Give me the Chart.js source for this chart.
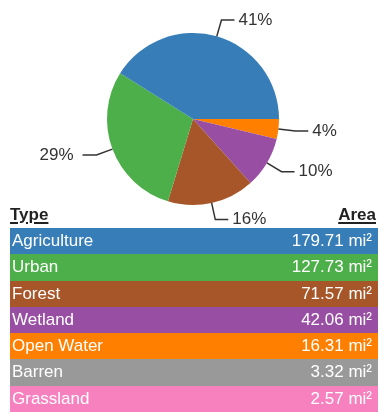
<!DOCTYPE html>
<html>
<head>
<meta charset="utf-8">
<script src="https://cdn.jsdelivr.net/npm/chart.js@4"></script>
<style>
  body { margin: 0; background: #fff; font-family: "Liberation Sans", Arial, sans-serif; }
  #wrap { position: relative; width: 380px; height: 413px; overflow: hidden; }
  #pieBox { position: absolute; left: 0; top: 0; width: 380px; height: 228px; }
  #head { position: absolute; left: 10px; top: 203px; width: 366px; height: 24px; line-height: 24px;
          font-size: 17px; font-weight: bold; color: #222; }
  #head span { text-decoration: underline; text-decoration-thickness: 2px; text-underline-offset: 2px; }
  #head .r { position: absolute; right: 0; top: 0; }
  #areaTable { position: absolute; left: 10px; top: 228px; width: 368px; }
  .row { position: relative; height: 26.3px; line-height: 26.3px; font-size: 17px; color: #fff; }
  .row .name { position: absolute; left: 2px; top: 0; }
  .row .val { position: absolute; right: 6px; top: 0; }
</style>
</head>
<body>
<div id="wrap">
  <div id="pieBox"><canvas id="pieChart"></canvas></div>
  <div id="head"><span>Type</span><span class="r">Area</span></div>
  <div id="areaTable"></div>
</div>
<script>
const types = ['Agriculture', 'Urban', 'Forest', 'Wetland', 'Open Water', 'Barren', 'Grassland'];
const areas = [179.71, 127.73, 71.57, 42.06, 16.31, 3.32, 2.57];
const typeColors = ['#377eb8', '#4daf4a', '#a65628', '#984ea3', '#ff7f00', '#999999', '#f781bf'];
// only the first five types go into the pie
const pieCount = 5;

document.addEventListener('DOMContentLoaded', () => {
  initTable();
  initPie();
});

function initTable() {
  const table = document.getElementById('areaTable');
  table.innerHTML = types.map((t, i) => `
    <div class="row" style="background:${typeColors[i]}">
      <span class="name">${t}</span>
      <span class="val">${areas[i].toFixed(2)} mi²</span>
    </div>`).join('');
}

// percent labels with bent leader lines
const leaderLabels = {
  id: 'leaderLabels',
  afterDatasetsDraw(chart) {
    const ctx = chart.ctx;
    const meta = chart.getDatasetMeta(0);
    const values = chart.data.datasets[0].data;
    const total = values.reduce((a, b) => a + b, 0);
    ctx.save();
    ctx.strokeStyle = '#333';
    ctx.lineWidth = 1.5;
    ctx.fillStyle = '#333';
    ctx.font = '17px "Liberation Sans", Arial, sans-serif';
    ctx.textBaseline = 'middle';
    meta.data.forEach((arc, i) => {
      const p = arc.getProps(['x', 'y', 'startAngle', 'endAngle', 'outerRadius'], true);
      const mid = (p.startAngle + p.endAngle) / 2;
      const cos = Math.cos(mid), sin = Math.sin(mid);
      const x0 = p.x + p.outerRadius * cos, y0 = p.y + p.outerRadius * sin;
      const x1 = p.x + (p.outerRadius + 17) * cos, y1 = p.y + (p.outerRadius + 17) * sin;
      const right = cos >= 0;
      const x2 = x1 + (right ? 13 : -14);
      ctx.beginPath();
      ctx.moveTo(x0, y0);
      ctx.lineTo(x1, y1);
      ctx.lineTo(x2, y1);
      ctx.stroke();
      ctx.textAlign = right ? 'left' : 'right';
      const pct = Math.round(values[i] / total * 100) + '%';
      ctx.fillText(pct, x2 + (right ? 4 : -9), y1);
    });
    ctx.restore();
  }
};

function initPie() {
  // reversed so the slices run counter-clockwise from 3 o'clock
  const pieLabels = types.slice(0, pieCount).reverse();
  const pieValues = areas.slice(0, pieCount).reverse();
  const pieColors = typeColors.slice(0, pieCount).reverse();

  new Chart(document.getElementById('pieChart'), {
    type: 'pie',
    data: {
      labels: pieLabels,
      datasets: [{
        data: pieValues,
        backgroundColor: pieColors,
        borderWidth: 0
      }]
    },
    options: {
      responsive: true,
      maintainAspectRatio: false,
      animation: false,
      rotation: 90,
      layout: { padding: { top: 33, bottom: 23, left: 107, right: 101 } },
      plugins: {
        legend: { display: false },
        tooltip: { enabled: false }
      }
    },
    plugins: [leaderLabels]
  });
}
</script>
</body>
</html>
